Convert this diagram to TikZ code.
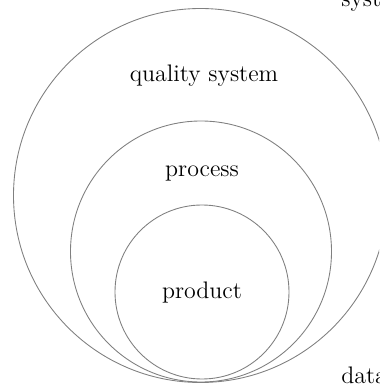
\documentclass[tikz,border=0pt]{standalone}
\usepackage{tkz-euclide}

\tikzset{ring/.style={line width=0.5pt}, word/.style={font=\fontsize{13.6}{16}\selectfont, inner sep=0pt}}

\begin{document}
\begin{tikzpicture}
  \clip (0,0) rectangle (7.58,7.70);
  % Defining the circles (centres and lowest points)
  \tkzDefPoint(4.01,3.79){A}
  \tkzDefPoint(4.02,2.67){B}
  \tkzDefPoint(4.04,1.86){C}
  \tkzDefShiftPoint[A](0,-3.74){a}
  \tkzDefShiftPoint[B](0,-2.61){b}
  \tkzDefShiftPoint[C](0,-1.74){c}
  \tkzDrawCircle[ring](A,a)
  \tkzDrawCircle[ring](B,b)
  \tkzDrawCircle[ring](C,c)
  % Labels
  \node[word] (quality) at (4.08,6.18) {quality system};
  \node[word] (process) at (4.04,4.24) {process};
  \node[word] (product) at (4.04,1.84) {product};
  % Words running off the edge
  \node[word, anchor=base west] (system) at (6.82,7.56) {system};
  \node[word, anchor=base west] (data) at (6.82,0.02) {data};
\end{tikzpicture}
\end{document}
